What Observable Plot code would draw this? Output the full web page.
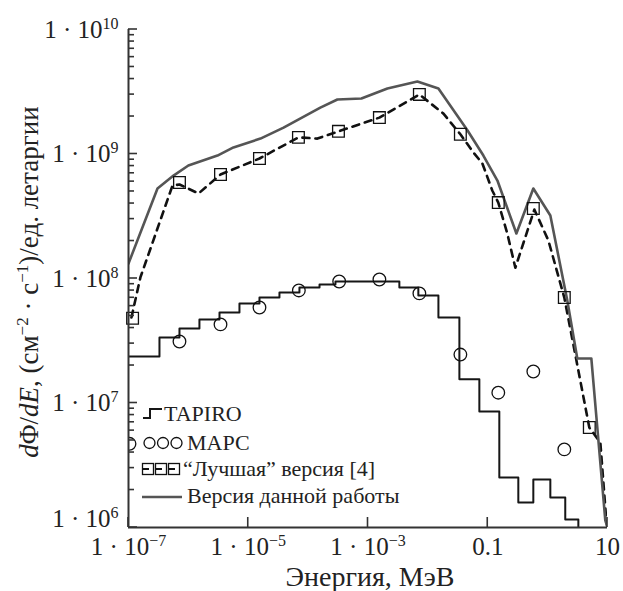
<!DOCTYPE html>
<html>
<head>
<meta charset="utf-8">
<script src="https://cdn.jsdelivr.net/npm/d3@7"></script>
<script src="https://cdn.jsdelivr.net/npm/@observablehq/plot@0.6"></script>
<style>
  html, body { margin: 0; padding: 0; background: #fff; }
  svg { display: block; }
</style>
</head>
<body>
<div id="chart"></div>
<script>
// ---------------- data ----------------
// "Версия данной работы" (solid gray line)
const solidE = [1e-7, 3.05e-7, 5.65e-7, 1.0e-6, 3.06e-6, 5.66e-6, 1.6e-5, 3.89e-5, 1.6e-4, 3.08e-4, 7.76e-4, 2.11e-3, 6.68e-3, 1.5e-2, 4.57e-2, 8.45e-2, 0.145, 0.301, 0.577, 1.11, 2.13, 3.13, 5.37, 9.19, 10];
const solidF = [1.32e8, 5.28e8, 6.71e8, 8.09e8, 9.72e8, 1.13e9, 1.33e9, 1.63e9, 2.36e9, 2.74e9, 2.79e9, 3.36e9, 3.82e9, 3.36e9, 1.55e9, 9.72e8, 6.12e8, 2.3e8, 5.28e8, 3.21e8, 6.65e7, 2.28e7, 2.28e7, 1.14e6, 1e6];

// "Лучшая" версия [4] (dashed line)
const bestE = [1.12e-7, 1.58e-7, 5.43e-7, 7.1e-7, 1.48e-6, 3.44e-6, 1.54e-5, 6.89e-5, 1.43e-4, 3.21e-4, 1.55e-3, 7.21e-3, 1.82e-2, 3.49e-2, 5.75e-2, 8.13e-2, 0.119, 0.150, 0.212, 0.289, 0.6, 1.03, 1.9, 4.97, 7.59, 9.55, 10];
const bestF = [4.86e7, 1.02e8, 5.58e8, 5.69e8, 4.82e8, 6.84e8, 9.2e8, 1.36e9, 1.33e9, 1.52e9, 1.96e9, 3.01e9, 2.11e9, 1.44e9, 1.03e9, 8.4e8, 5.09e8, 4.07e8, 2.3e8, 1.22e8, 3.58e8, 2.02e8, 7.03e7, 6.35e6, 4.82e6, 1.14e6, 1e6];
// its square markers
const bestMarkE = [1.17e-7, 7.1e-7, 3.44e-6, 1.54e-5, 6.89e-5, 3.21e-4, 1.55e-3, 7.21e-3, 3.49e-2, 0.150, 0.577, 1.9, 4.97];
const bestMarkF = [4.8e7, 5.9e8, 6.84e8, 9.2e8, 1.36e9, 1.52e9, 1.96e9, 3.01e9, 1.44e9, 4.07e8, 3.65e8, 7.03e7, 6.35e6];

// МАРС (circles)
const marsE = [1.04e-7, 7.1e-7, 3.44e-6, 1.54e-5, 7.0e-5, 3.3e-4, 1.55e-3, 7.21e-3, 3.49e-2, 0.150, 0.577, 1.9];
const marsF = [4.7e6, 3.12e7, 4.28e7, 5.85e7, 8.02e7, 9.46e7, 9.82e7, 7.59e7, 2.45e7, 1.21e7, 1.79e7, 4.24e6];

// TAPIRO (histogram steps: left bin edge, value; last point closes the last bin)
const tapiroE = [1e-7, 3.29e-7, 7.1e-7, 1.53e-6, 3.31e-6, 7.13e-6, 1.54e-5, 3.32e-5, 7.16e-5, 1.55e-4, 2.86e-4, 3.34e-3, 6.93e-3, 1.5e-2, 3.36e-2, 7.24e-2, 0.156, 0.324, 0.577, 1.11, 1.97, 3.26];
const tapiroF = [2.36e7, 3.36e7, 3.96e7, 4.69e7, 5.33e7, 6.3e7, 7.03e7, 7.73e7, 8.47e7, 8.95e7, 9.46e7, 8.47e7, 7.3e7, 4.86e7, 1.55e7, 8.55e6, 2.52e6, 1.59e6, 2.43e6, 1.74e6, 1.16e6, 1e6];

// ticks
const xTicks = [1e-7, 1e-5, 1e-3, 0.1, 10];
const xTickLabels = ["1 · 10^−7", "1 · 10^−5", "1 · 10^−3", "0.1", "10"];
const yTicks = [1e6, 1e7, 1e8, 1e9, 1e10];
const yTickLabels = ["1 · 10^6", "1 · 10^7", "1 · 10^8", "1 · 10^9", "1 · 10^10"];
const yMinorMantissas = [2, 3, 4, 5, 6, 7, 8, 9];
const yMinorDecades = [1e6, 1e7, 1e8, 1e9];

const legendLabels = ["TAPIRO", "МАРС", "“Лучшая” версия [4]", "Версия данной работы"];
const xTitle = "Энергия, МэВ";

// ---------------- build ----------------
const zip = (E, F) => E.map((e, i) => ({e, f: F[i]}));
const solid = zip(solidE, solidF);
const best = zip(bestE, bestF);
const bestMarks = zip(bestMarkE, bestMarkF);
const mars = zip(marsE, marsF);
const tapiro = zip(tapiroE, tapiroF);
const yMinor = yMinorDecades.flatMap(d => yMinorMantissas.map(m => m * d));

const W = 623, H = 591;

const chart = Plot.plot({
  width: W, height: H,
  marginLeft: 128, marginRight: 16, marginTop: 29, marginBottom: 64,
  style: "font-family: 'Liberation Serif', serif; font-size: 25px; background: #fff; color: #222;",
  x: {type: "log", domain: [1e-7, 10], label: null},
  y: {type: "log", domain: [1e6, 1e10], label: null},
  marks: [
    Plot.line(tapiro, {x: "e", y: "f", curve: "step-after", stroke: "#161616", strokeWidth: 2, clip: true}),
    Plot.line(best, {x: "e", y: "f", stroke: "#111", strokeWidth: 2.6, strokeDasharray: "7,6", clip: true}),
    Plot.line(solid, {x: "e", y: "f", stroke: "#555", strokeWidth: 2.6, clip: true}),
    Plot.dot(mars, {x: "e", y: "f", r: 6.3, stroke: "#111", strokeWidth: 1.3, fill: "none", clip: true}),
    Plot.dot(bestMarks, {x: "e", y: "f", symbol: "square", r: 6.6, stroke: "#111", strokeWidth: 1.3, fill: "none"}),
    Plot.ruleX([1e-7], {stroke: "#333", strokeWidth: 2}),
    Plot.ruleY([1e6], {stroke: "#333", strokeWidth: 2}),
    Plot.axisY(yTicks, {tickSize: 0, tickPadding: 10, label: null, tickFormat: d => yTickLabels[yTicks.indexOf(d)], fill: "#222"}),
    Plot.axisX(xTicks, {tickSize: 0, tickPadding: 10, label: null, tickFormat: d => xTickLabels[xTicks.indexOf(d)], fill: "#222"})
  ]
});

const svg = d3.select(chart);
const sx = chart.scale("x"), sy = chart.scale("y");
const x0 = sx.apply(1e-7), y0 = sy.apply(1e6);

// inward ticks, positioned through Plot's scales
const tg = svg.append("g").attr("stroke", "#333").attr("stroke-width", 1.6);
yTicks.forEach(v => tg.append("line").attr("x1", x0).attr("x2", x0 + 9).attr("y1", sy.apply(v)).attr("y2", sy.apply(v)));
yMinor.forEach(v => tg.append("line").attr("x1", x0).attr("x2", x0 + 6).attr("y1", sy.apply(v)).attr("y2", sy.apply(v)));
xTicks.forEach(v => tg.append("line").attr("x1", sx.apply(v)).attr("x2", sx.apply(v)).attr("y1", y0).attr("y2", y0 - 10));

// superscripts in tick labels
svg.selectAll("text").each(function() {
  const t = this.textContent;
  if (!t.includes("^")) return;
  const [base, exp] = t.split("^");
  const s = d3.select(this);
  s.selectAll("*").remove();
  s.text(null);
  // lowest y label sits a little higher, as in the original, clear of the x labels
  if (t === yTickLabels[0]) {
    const tr = s.attr("transform") || "";
    s.attr("transform", tr + " translate(0,-9)");
  }
  s.append("tspan").text(base);
  s.append("tspan").attr("dy", -9).attr("font-size", "16px").text(exp);
});

// x-axis title
svg.append("text")
  .attr("x", 370).attr("y", 586)
  .attr("text-anchor", "middle")
  .attr("font-size", 28).attr("fill", "#222")
  .text(xTitle);

// y-axis title with italics and superscripts
const yt = svg.append("text")
  .attr("transform", "translate(38,282) rotate(-90)")
  .attr("text-anchor", "middle")
  .attr("font-size", 27).attr("fill", "#222");
yt.append("tspan").attr("font-style", "italic").text("d");
yt.append("tspan").text("Φ/");
yt.append("tspan").attr("font-style", "italic").text("dE");
yt.append("tspan").text(", (см");
yt.append("tspan").attr("dy", -10).attr("font-size", 17).text("−2");
yt.append("tspan").attr("dy", 10).text(" · с");
yt.append("tspan").attr("dy", -10).attr("font-size", 17).text("−1");
yt.append("tspan").attr("dy", 10).text(")/ед. летаргии");

// legend
const lg = svg.append("g").attr("font-size", 22).attr("fill", "#222").attr("text-anchor", "start");
lg.append("path").attr("d", "M143,418H150V409H162").attr("fill", "none").attr("stroke", "#161616").attr("stroke-width", 2);
lg.append("text").attr("x", 164).attr("y", 421).text(legendLabels[0]);
[149.5, 163, 176.5].forEach(cx => lg.append("circle").attr("cx", cx).attr("cy", 443).attr("r", 5.5)
  .attr("fill", "none").attr("stroke", "#111").attr("stroke-width", 1.3));
lg.append("text").attr("x", 187).attr("y", 450).text(legendLabels[1]);
lg.append("line").attr("x1", 142).attr("x2", 180).attr("y1", 469).attr("y2", 469)
  .attr("stroke", "#111").attr("stroke-width", 2.2).attr("stroke-dasharray", "7,6");
[148, 161, 174].forEach(cx => lg.append("rect").attr("x", cx - 5.5).attr("y", 463.5).attr("width", 11).attr("height", 11)
  .attr("fill", "none").attr("stroke", "#111").attr("stroke-width", 1.3));
lg.append("text").attr("x", 183).attr("y", 476).text(legendLabels[2]);
lg.append("line").attr("x1", 142).attr("x2", 182).attr("y1", 497).attr("y2", 497)
  .attr("stroke", "#555").attr("stroke-width", 2.6);
lg.append("text").attr("x", 187).attr("y", 503).text(legendLabels[3]);

svg.selectAll("text, tspan").style("font-family", "'Liberation Serif', serif");

document.getElementById("chart").appendChild(chart);
</script>
</body>
</html>
